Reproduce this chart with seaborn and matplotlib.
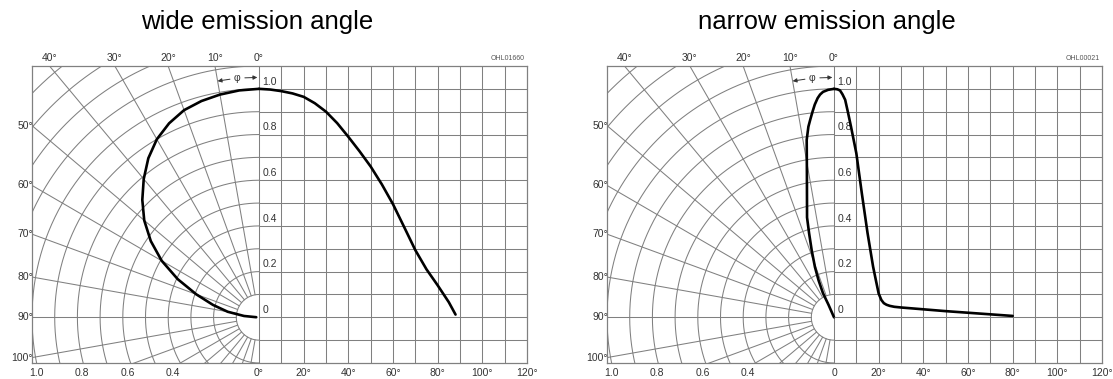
import numpy as np
import pandas as pd
import matplotlib
matplotlib.use("Agg")
import matplotlib.pyplot as plt
import seaborn as sns

sns.set_theme(style="white")
plt.rcParams['font.family'] = ['Liberation Sans', 'DejaVu Sans']

# Relative luminous intensity I/I0 versus emission angle (degrees)
wide_angle_deg = [0, 5, 10, 15, 20, 25, 30, 35, 40, 45, 50, 55, 60, 65, 70,
                  75, 80, 85, 88]
wide_intensity = [1.0, 0.997, 0.99, 0.98, 0.965, 0.937, 0.90, 0.85, 0.79,
                  0.727, 0.66, 0.582, 0.495, 0.395, 0.294, 0.21, 0.14, 0.066,
                  0.012]

narrow_angle_deg = [0, 1.5, 2.7, 3.8, 5, 6.3, 7.6, 10, 12.5, 15, 17.5, 18.8,
                    20, 21.2, 22.3, 23.5, 25, 27, 30, 40, 50, 60, 70, 80]
narrow_intensity = [1.0, 0.998, 0.993, 0.976, 0.952, 0.895, 0.835, 0.718,
                    0.54, 0.37, 0.222, 0.16, 0.104, 0.076, 0.062, 0.055,
                    0.05, 0.046, 0.043, 0.035, 0.027, 0.02, 0.013, 0.006]

# Polar lobe of the narrow emitter (angle, relative intensity)
narrow_lobe_deg = [0, 1.5, 2.8, 3.6, 4.3, 5.2, 6.0, 6.8, 7.7, 8.8, 10.7, 13.0,
                   15.2, 16.6, 18.5, 20.9, 22.8, 24.7, 23.8, 23.0]
narrow_lobe_r = [1.0, 0.996, 0.988, 0.977, 0.962, 0.935, 0.905, 0.875, 0.842,
                 0.786, 0.643, 0.529, 0.453, 0.384, 0.31, 0.235, 0.175, 0.116,
                 0.06, 0.0]

panel_titles = ["wide emission angle", "narrow emission angle"]
drawing_codes = ["OHL01660", "OHL00021"]
zero_labels = ["0°", "0"]

intensity_ticks = [1.0, 0.8, 0.6, 0.4, 0.2, 0.0]
radius_ticks = [1.0, 0.8, 0.6, 0.4]
top_angle_ticks = [40, 30, 20, 10, 0]
side_angle_ticks = [50, 60, 70, 80, 90, 100]
cart_angle_ticks = [20, 40, 60, 80, 100, 120]

# Diagram geometry (polar radius units)
Y_TOP, Y_BOT = 1.1, -0.2
X_LEFT = -1.0
X_RIGHT = 268 / 227
ANG_MAX = 120
DEG_PER_UNIT = ANG_MAX / X_RIGHT

GRID = "#808080"
GLW = 0.75
TXT = "#333333"
FS = 7.5


def polar_xy(deg, r):
    t = np.radians(np.asarray(deg, dtype=float))
    r = np.asarray(r, dtype=float)
    return -r * np.sin(t), r * np.cos(t)


def draw_panel(ax, angle, intensity, lobe_deg, lobe_r, code, zero_label):
    ax.set_xlim(X_LEFT, X_RIGHT)
    ax.set_ylim(Y_BOT, Y_TOP)
    ax.set_xticks([])
    ax.set_yticks([])
    for s in ax.spines.values():
        s.set_color(GRID)
        s.set_linewidth(0.9)

    # polar half: arcs and radial rays
    theta = np.linspace(0, 180, 361)
    for r in np.arange(1, 16) / 10:
        x, y = polar_xy(theta, np.full_like(theta, r))
        ax.plot(x, y, color=GRID, lw=GLW, zorder=1)
    for a in range(10, 180, 10):
        x, y = polar_xy([a, a], [0.1, 2.5])
        ax.plot(x, y, color=GRID, lw=GLW, zorder=1)
    ax.axvline(0, color=GRID, lw=GLW, zorder=1)

    # cartesian half on an angle scale
    ax2 = ax.twiny()
    ax2.set_xlim(X_LEFT * DEG_PER_UNIT, ANG_MAX)
    ax2.set_ylim(Y_BOT, Y_TOP)
    ax2.set_xticks([])
    for s in ax2.spines.values():
        s.set_visible(False)
    ax2.vlines(np.arange(10, ANG_MAX, 10), Y_BOT, Y_TOP, color=GRID, lw=GLW, zorder=1)
    ax2.hlines(np.arange(-1, 11) / 10, 0, ANG_MAX, color=GRID, lw=GLW, zorder=1)

    # polar curve
    px, py = polar_xy(lobe_deg, lobe_r)
    sns.lineplot(x=px, y=py, sort=False, estimator=None, ax=ax,
                 color="black", lw=1.9, zorder=3)
    # cartesian curve
    sns.lineplot(x=angle, y=intensity, sort=False, estimator=None, ax=ax2,
                 color="black", lw=1.9, zorder=3)
    for a_ in (ax, ax2):
        a_.set_xlabel("")
        a_.set_ylabel("")
        for ln in a_.get_lines():
            ln.set_solid_joinstyle("round")

    # intensity labels along the 0° line
    for v in intensity_ticks:
        ax.text(0.014, v + 0.01, "0" if v == 0 else f"{v:.1f}", ha="left",
                va="bottom", fontsize=FS, color=TXT)
    # angle labels along the top edge
    for a in top_angle_ticks:
        x = -Y_TOP * np.tan(np.radians(a))
        ax.text(x, Y_TOP + 0.035, f"{a}°", ha="center", va="center",
                fontsize=FS, color=TXT)
    # angle labels along the left edge
    for a in side_angle_ticks:
        y = -X_LEFT / np.tan(np.radians(a))
        ax.text(X_LEFT + 0.005, y, f"{a}°", ha="right", va="center",
                fontsize=FS, color=TXT)
    # radius labels along the bottom edge
    for r in radius_ticks:
        ax.text(-r + 0.02, Y_BOT - 0.045, f"{r:.1f}", ha="center", va="center",
                fontsize=FS, color=TXT)
    ax.text(0, Y_BOT - 0.045, zero_label, ha="center", va="center",
            fontsize=FS, color=TXT)
    for a in cart_angle_ticks:
        ax2.text(a, Y_BOT - 0.045, f"{a}°", ha="center", va="center",
                 fontsize=FS, color=TXT)
    ax2.text(ANG_MAX - 1, Y_TOP + 0.035, code, ha="right", va="center",
             fontsize=5, color="#555555")

    # angle marker φ between 0° and 10°
    rr = 1.05
    tx, ty = polar_xy([5.2], [rr])
    ax.text(tx[0], ty[0], "φ", ha="center", va="center", fontsize=FS, color=TXT)
    for a0, a1 in ((7.0, 10.0), (3.4, 0.4)):
        (x0,), (y0,) = polar_xy([a0], [rr])
        (x1,), (y1,) = polar_xy([a1], [rr])
        ax.annotate("", xy=(x1, y1), xytext=(x0, y0),
                    arrowprops=dict(arrowstyle="-|>", color=TXT, lw=0.7,
                                    mutation_scale=6, shrinkA=0, shrinkB=0))


fig = plt.figure(figsize=(11.13, 3.79), dpi=100)
W, H = 1113, 379
panels = [
    (32, wide_angle_deg, wide_intensity, wide_angle_deg, wide_intensity),
    (607, narrow_angle_deg, narrow_intensity, narrow_lobe_deg, narrow_lobe_r),
]
title_x = [257, 827]
for i, (left, ang, inten, ldeg, lr) in enumerate(panels):
    ax = fig.add_axes([left / W, 16 / H, 495 / W, 297 / H])
    draw_panel(ax, ang, inten, ldeg, lr, drawing_codes[i], zero_labels[i])
    fig.text(title_x[i] / W, 1 - 22 / H, panel_titles[i], ha="center",
             va="center", fontsize=18.5, color="black")

fig.savefig("out.png", dpi=100)
